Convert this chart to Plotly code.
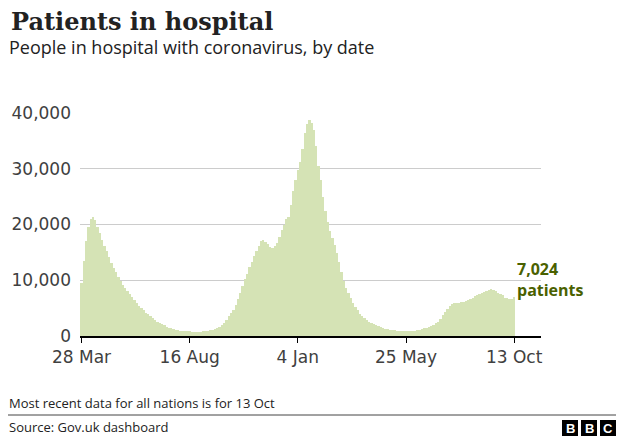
import pandas as pd
import plotly.graph_objects as go

# Patients in hospital, one reading every 3 days, 28 Mar 2020 -> 13 Oct 2021
start_date = "2020-03-28"
step_days = 3
patients = [
    9500, 13500, 17000, 19500, 21000, 21400, 20800, 19600, 18500, 17300,
    16200, 15200, 14200, 13100, 12200, 11400, 10600, 9900, 9200, 8600,
    8100, 7500, 7000, 6500, 5900, 5400, 5000, 4600, 4200, 3900,
    3500, 3200, 2900, 2600, 2350, 2100, 1900, 1700, 1500, 1350,
    1200, 1100, 1000, 950, 900, 870, 840, 820, 800, 790,
    780, 790, 800, 830, 870, 930, 1020, 1150, 1300, 1450,
    1700, 2000, 2400, 2900, 3500, 4100, 4700, 5500, 6600, 7700,
    8900, 10200, 11200, 12300, 13300, 14300, 15200, 16200, 17000, 17300,
    16800, 16500, 16000, 15700, 16100, 16700, 17800, 19000, 20000, 20900,
    21300, 23500, 26000, 28000, 29800, 31200, 33500, 36500, 38000, 38700,
    38200, 37000, 34000, 30500, 28000, 25000, 22500, 20500, 18800, 17500,
    16300, 14800, 13300, 11500, 9800, 8700, 7800, 6800, 5900, 5200,
    4600, 4000, 3600, 3200, 2900, 2600, 2400, 2200, 2000, 1800,
    1650, 1450, 1300, 1200, 1100, 1050, 1000, 950, 900, 870,
    850, 830, 840, 860, 900, 950, 1000, 1080, 1200, 1350,
    1500, 1650, 1850, 2050, 2300, 2600, 3100, 3700, 4300, 4900,
    5300, 5700, 5900, 5950, 6000, 6050, 6100, 6200, 6400, 6600,
    6850, 7100, 7300, 7500, 7700, 7900, 8100, 8300, 8400, 8200,
    8000, 7700, 7500, 7300, 6900, 6800, 6700, 6650, 7024,
]
dates = pd.date_range(start_date, periods=len(patients), freq=f"{step_days}D")

tick_dates = ["2020-03-28", "2020-08-16", "2021-01-04", "2021-05-25", "2021-10-13"]
tick_text = ["28 Mar", "16 Aug", "4 Jan", "25 May", "13 Oct"]
y_ticks = [0, 10000, 20000, 30000, 40000]

# page body has an 8px margin, so the figure is drawn 8px in from the corner
OFF = 8
W, H = 624 - OFF, 438 - OFF
L, R, T, B = 80 - OFF, 83, 113 - OFF, 102
SANS = "Open Sans, Noto Sans, sans-serif"
TICKFONT = "DejaVu Sans, sans-serif"
DAY_MS = 86400000

# page pixel -> paper coordinates
def px(x):
    return (x - OFF - L) / (W - L - R)

def py(y):
    return (H - B - (y - OFF)) / (H - T - B)

fig = go.Figure()
fig.add_trace(go.Bar(
    x=dates, y=patients,
    width=step_days * DAY_MS, offset=-1.5 * DAY_MS,
    marker=dict(color="#d5e3b5", line=dict(width=0)),
    hoverinfo="x+y", showlegend=False,
))

ann = [
    dict(x=px(9), y=py(22), text="<b>Patients in hospital</b>",
         font=dict(family="DejaVu Serif, serif", size=24, color="#222222")),
    dict(x=px(7), y=py(47), text="People in hospital with coronavirus, by date",
         font=dict(family=SANS, size=18, color="#222222")),
    dict(x=px(7), y=py(403), text="Most recent data for all nations is for 13 Oct",
         font=dict(family=SANS, size=13, color="#222222")),
    dict(x=px(7), y=py(427), text="Source: Gov.uk dashboard",
         font=dict(family=SANS, size=13, color="#222222")),
]
for a in ann:
    fig.add_annotation(xref="paper", yref="paper", xanchor="left", yanchor="middle",
                       showarrow=False, **a)

# label for the latest value
fig.add_annotation(x=dates[-1], y=patients[-1], xref="x", yref="y",
                   text=f"<b>{patients[-1]:,}<br>patients</b>",
                   xanchor="left", yanchor="bottom", align="left", xshift=1, yshift=-6,
                   showarrow=False,
                   font=dict(family=SANS, size=16, color="#4a6100"))

# separator line above source
fig.add_shape(type="line", xref="paper", yref="paper",
              x0=px(0), x1=px(624), y0=py(415), y1=py(415),
              line=dict(color="#444444", width=1))

# BBC blocks
for i, letter in enumerate("BBC"):
    x0 = 562 + i * 19
    fig.add_shape(type="rect", xref="paper", yref="paper",
                  x0=px(x0), x1=px(x0 + 16), y0=py(436), y1=py(420),
                  fillcolor="#000000", line=dict(width=0))
    fig.add_annotation(xref="paper", yref="paper", x=px(x0 + 8), y=py(428.5),
                       text=f"<b>{letter}</b>", showarrow=False,
                       xanchor="center", yanchor="middle",
                       font=dict(family="Liberation Sans, Arial, sans-serif", size=13, color="#ffffff"))

fig.update_layout(
    width=W, height=H,
    margin=dict(l=L, r=R, t=T, b=B, autoexpand=False),
    paper_bgcolor="white", plot_bgcolor="white",
    bargap=0,
    font=dict(family=SANS, color="#404040"),
    xaxis=dict(
        type="date", automargin=False,
        range=["2020-03-26", "2021-11-17"],
        tickvals=tick_dates, ticktext=tick_text,
        tickfont=dict(family=TICKFONT, size=17, color="#404040"),
        ticks="outside", ticklen=5, tickcolor="#000000", tickwidth=1,
        showline=True, linecolor="#000000", linewidth=2,
        showgrid=False, zeroline=False,
    ),
    yaxis=dict(
        range=[0, 40000], automargin=False,
        tickvals=y_ticks, tickformat=",",
        tickfont=dict(family=TICKFONT, size=17, color="#404040"),
        showgrid=True, gridcolor="#cccccc", gridwidth=1,
        zeroline=False, showline=False, ticks="",
        ticklabelstandoff=8,
    ),
)

fig.write_html("out.html")
